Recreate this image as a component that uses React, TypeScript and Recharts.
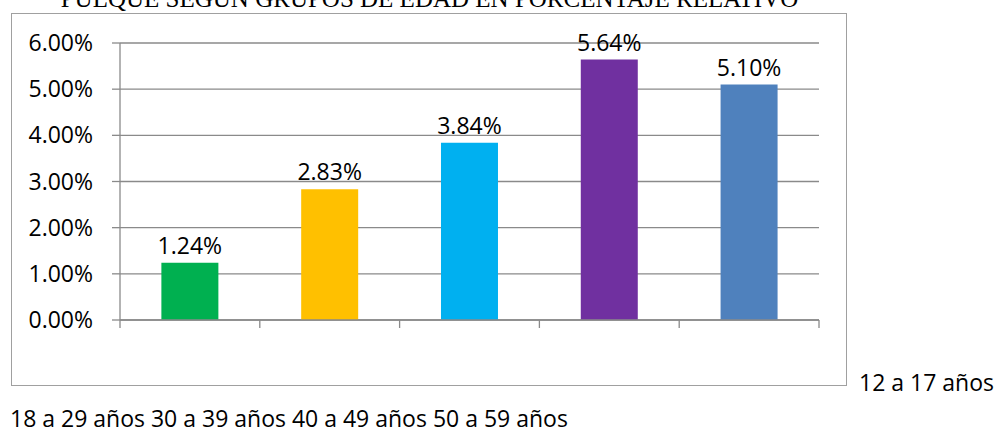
import React from "react";
import { BarChart, Bar, XAxis, YAxis, CartesianGrid, Cell, LabelList } from "recharts";

const categories = ["12 a 17 años", "18 a 29 años", "30 a 39 años", "40 a 49 años", "50 a 59 años"];
const values = [1.24, 2.83, 3.84, 5.64, 5.1];
const barColors = ["#00B050", "#FFC000", "#00B0F0", "#7030A0", "#4F81BD"];
const yTicks = [0, 1, 2, 3, 4, 5, 6];
const title = "PULQUE SEGÚN GRUPOS DE EDAD EN PORCENTAJE RELATIVO";

const font = "'Open Sans', 'Noto Sans', sans-serif";
const grid = "#8a8a8a";
const fs = 23;

const data = categories.map((name, i) => ({ name, value: values[i], color: barColors[i] }));

// Excel-style ticks sit on the category boundaries, not the centres
function EdgeTick(props: any) {
  const { x, y, payload, index, visibleTicksCount } = props;
  const half = payload && payload.offset ? payload.offset : 0;
  const last = index === visibleTicksCount - 1;
  return (
    <g>
      <line x1={x - half} x2={x - half} y1={y} y2={y + 8} stroke={grid} strokeWidth={1.3} />
      {last && <line x1={x + half} x2={x + half} y1={y} y2={y + 8} stroke={grid} strokeWidth={1.3} />}
    </g>
  );
}

export default function App() {
  return (
    <div style={{ position: "relative", width: 996, height: 431, background: "#fff", overflow: "hidden" }}>
      <style>{"body{margin:0}"}</style>
      <div
        style={{
          position: "absolute",
          left: 11,
          top: -14,
          width: 837,
          textAlign: "center",
          fontFamily: "'Liberation Serif', 'Times New Roman', serif",
          fontSize: 25,
          lineHeight: "25px",
          whiteSpace: "nowrap",
        }}
      >
        {title}
      </div>
      <div
        style={{
          position: "absolute",
          left: 11,
          top: 13,
          width: 836,
          height: 373,
          border: "1.5px solid #a0a0a0",
          boxSizing: "border-box",
        }}
      />
      <div style={{ position: "absolute", left: 0, top: 0 }}>
        <BarChart
          width={996}
          height={431}
          data={data}
          margin={{ top: 43, right: 177, bottom: 101, left: 10 }}
          barCategoryGap="29.6%"
        >
          <CartesianGrid horizontal vertical={false} stroke={grid} strokeWidth={1.3} />
          <XAxis
            dataKey="name"
            height={10}
            tickLine={false}
            tickSize={0}
            tickMargin={0}
            tick={<EdgeTick />}
            interval={0}
            axisLine={{ stroke: grid, strokeWidth: 1.3 }}
          />
          <YAxis
            width={110}
            domain={[0, 6]}
            ticks={yTicks}
            tickSize={8}
            tickMargin={19}
            tickFormatter={(v: number) => v.toFixed(2) + "%"}
            axisLine={{ stroke: grid, strokeWidth: 1.3 }}
            tickLine={{ stroke: grid, strokeWidth: 1.3 }}
            tick={{ fill: "#000", fontSize: fs, fontFamily: font }}
          />
          <Bar dataKey="value" isAnimationActive={false}>
            {data.map((d) => (
              <Cell key={d.name} fill={d.color} />
            ))}
            <LabelList
              dataKey="value"
              position="top"
              offset={9}
              formatter={(v: number) => v.toFixed(2) + "%"}
              style={{ fill: "#000", fontSize: fs, fontFamily: font }}
            />
          </Bar>
        </BarChart>
      </div>
      <div
        style={{
          position: "absolute",
          left: 859,
          top: 371,
          fontFamily: font,
          fontSize: fs,
          lineHeight: fs + "px",
          whiteSpace: "nowrap",
        }}
      >
        {categories[0]}
      </div>
      <div
        style={{
          position: "absolute",
          left: 10,
          top: 407,
          fontFamily: font,
          fontSize: fs,
          lineHeight: fs + "px",
          whiteSpace: "nowrap",
        }}
      >
        {categories.slice(1).join(" ")}
      </div>
    </div>
  );
}
